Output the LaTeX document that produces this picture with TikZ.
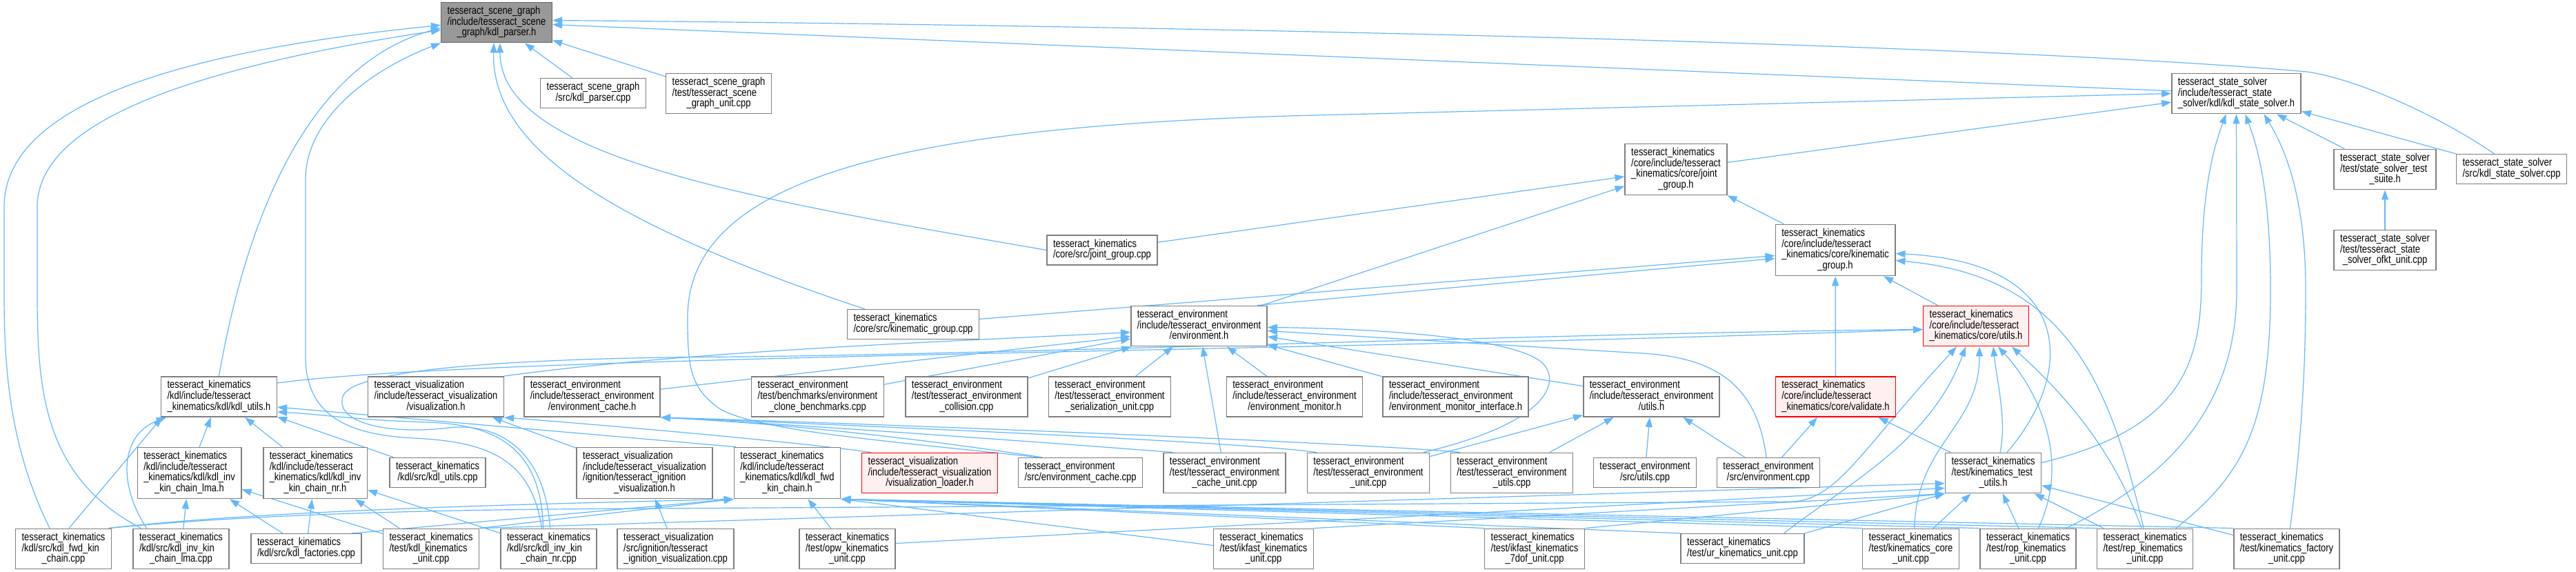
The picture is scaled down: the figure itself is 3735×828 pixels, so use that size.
\documentclass[tikz,border=0pt]{standalone}
\usepackage{fontspec}
\setmainfont{Liberation Sans}[FakeStretch=0.82]
\usetikzlibrary{arrows.meta,backgrounds}
\definecolor{edgeblue}{HTML}{63B8FF}
\definecolor{boxgray}{HTML}{7F7F7F}
\definecolor{hdrgray}{HTML}{999999}
\definecolor{trunc}{HTML}{FFF0F0}
\newcommand{\doxlbl}[2]{\begin{tabular}{@{}l@{}}#1\\\multicolumn{1}{@{}c@{}}{#2}\end{tabular}}
\tikzset{
  file/.style={draw=boxgray, line width=1.5pt, fill=white, inner xsep=9pt, inner ysep=5.5pt,
    font=\fontsize{15.8pt}{14.5pt}\selectfont},
  mainfile/.style={file, fill=hdrgray, draw=black!60},
  truncfile/.style={file, draw=red, fill=trunc},
  dep/.style={draw=edgeblue, line width=1.2pt, -{Triangle[length=14pt,width=10pt]}},
}
\begin{document}
\begin{tikzpicture}[x=1pt,y=-1pt]
\useasboundingbox (0,0) rectangle (3735,828);
% top rows
\node[mainfile] (parser) at (720,32.5) {\doxlbl{tesseract\_scene\_graph\\/include/tesseract\_scene}{\_graph/kdl\_parser.h}};
\node[file] (parsercpp) at (860,135) {\doxlbl{tesseract\_scene\_graph}{/src/kdl\_parser.cpp}};
\node[file] (sgunit) at (1042,135.5) {\doxlbl{tesseract\_scene\_graph\\/test/tesseract\_scene}{\_graph\_unit.cpp}};
\node[file] (kss) at (3242.5,135.5) {\doxlbl{tesseract\_state\_solver\\/include/tesseract\_state}{\_solver/kdl/kdl\_state\_solver.h}};
\node[file] (jg) at (2430,245.5) {\doxlbl{tesseract\_kinematics\\/core/include/tesseract\\\_kinematics/core/joint}{\_group.h}};
\node[file] (jgcpp) at (1598,362.5) {\doxlbl{tesseract\_kinematics}{/core/src/joint\_group.cpp}};
\node[file] (sstsuite) at (3458,245.5) {\doxlbl{tesseract\_state\_solver\\/test/state\_solver\_test}{\_suite.h}};
\node[file] (ksscpp) at (3641.5,245) {\doxlbl{tesseract\_state\_solver}{/src/kdl\_state\_solver.cpp}};
\node[file] (ofkt) at (3458,362.5) {\doxlbl{tesseract\_state\_solver\\/test/tesseract\_state}{\_solver\_ofkt\_unit.cpp}};
\node[file] (kg) at (2661,362.5) {\doxlbl{tesseract\_kinematics\\/core/include/tesseract\\\_kinematics/core/kinematic}{\_group.h}};
\node[file] (kgcpp) at (1324,470) {\doxlbl{tesseract\_kinematics}{/core/src/kinematic\_group.cpp}};
\node[file] (env) at (1738.5,472.5) {\doxlbl{tesseract\_environment\\/include/tesseract\_environment}{/environment.h}};
\node[truncfile] (cutils) at (2865,472.5) {\doxlbl{tesseract\_kinematics\\/core/include/tesseract}{\_kinematics/core/utils.h}};
% middle row
\node[file] (kdlutils) at (317.5,575) {\doxlbl{tesseract\_kinematics\\/kdl/include/tesseract}{\_kinematics/kdl/kdl\_utils.h}};
\node[file] (vis) at (632,575) {\doxlbl{tesseract\_visualization\\/include/tesseract\_visualization}{/visualization.h}};
\node[file] (envcache) at (858.5,575) {\doxlbl{tesseract\_environment\\/include/tesseract\_environment}{/environment\_cache.h}};
\node[file] (bench) at (1185.5,575) {\doxlbl{tesseract\_environment\\/test/benchmarks/environment}{\_clone\_benchmarks.cpp}};
\node[file] (coll) at (1401.5,575) {\doxlbl{tesseract\_environment\\/test/tesseract\_environment}{\_collision.cpp}};
\node[file] (ser) at (1609,575) {\doxlbl{tesseract\_environment\\/test/tesseract\_environment}{\_serialization\_unit.cpp}};
\node[file] (mon) at (1877,575) {\doxlbl{tesseract\_environment\\/include/tesseract\_environment}{/environment\_monitor.h}};
\node[file] (monif) at (2110.5,575) {\doxlbl{tesseract\_environment\\/include/tesseract\_environment}{/environment\_monitor\_interface.h}};
\node[file] (eutils) at (2394.5,575) {\doxlbl{tesseract\_environment\\/include/tesseract\_environment}{/utils.h}};
\node[truncfile] (valid) at (2661.5,575) {\doxlbl{tesseract\_kinematics\\/core/include/tesseract}{\_kinematics/core/validate.h}};
% lower row
\node[file] (lmah) at (274.5,685.5) {\doxlbl{tesseract\_kinematics\\/kdl/include/tesseract\\\_kinematics/kdl/kdl\_inv}{\_kin\_chain\_lma.h}};
\node[file] (nrh) at (457,685.5) {\doxlbl{tesseract\_kinematics\\/kdl/include/tesseract\\\_kinematics/kdl/kdl\_inv}{\_kin\_chain\_nr.h}};
\node[file] (kdlutilscpp) at (634.5,685) {\doxlbl{tesseract\_kinematics}{/kdl/src/kdl\_utils.cpp}};
\node[file] (ignh) at (934.5,685.5) {\doxlbl{tesseract\_visualization\\/include/tesseract\_visualization\\/ignition/tesseract\_ignition}{\_visualization.h}};
\node[file] (fwdh) at (1141.5,685.5) {\doxlbl{tesseract\_kinematics\\/kdl/include/tesseract\\\_kinematics/kdl/kdl\_fwd}{\_kin\_chain.h}};
\node[truncfile] (loader) at (1348,685.5) {\doxlbl{tesseract\_visualization\\/include/tesseract\_visualization}{/visualization\_loader.h}};
\node[file] (cachecpp) at (1566.5,685) {\doxlbl{tesseract\_environment}{/src/environment\_cache.cpp}};
\node[file] (cacheunit) at (1775.5,685.5) {\doxlbl{tesseract\_environment\\/test/tesseract\_environment}{\_cache\_unit.cpp}};
\node[file] (envunit) at (1984,685.5) {\doxlbl{tesseract\_environment\\/test/tesseract\_environment}{\_unit.cpp}};
\node[file] (eutilscpp) at (2192,685.5) {\doxlbl{tesseract\_environment\\/test/tesseract\_environment}{\_utils.cpp}};
\node[file] (srcutils) at (2385,685) {\doxlbl{tesseract\_environment}{/src/utils.cpp}};
\node[file] (envcpp) at (2564,685) {\doxlbl{tesseract\_environment}{/src/environment.cpp}};
\node[file] (ktu) at (2890,685.5) {\doxlbl{tesseract\_kinematics\\/test/kinematics\_test}{\_utils.h}};
% bottom row
\node[file] (fwdcpp) at (92,795.5) {\doxlbl{tesseract\_kinematics\\/kdl/src/kdl\_fwd\_kin}{\_chain.cpp}};
\node[file] (lmacpp) at (262.5,795.5) {\doxlbl{tesseract\_kinematics\\/kdl/src/kdl\_inv\_kin}{\_chain\_lma.cpp}};
\node[file] (factcpp) at (444,795) {\doxlbl{tesseract\_kinematics}{/kdl/src/kdl\_factories.cpp}};
\node[file] (kdlunit) at (625,795.5) {\doxlbl{tesseract\_kinematics\\/test/kdl\_kinematics}{\_unit.cpp}};
\node[file] (nrcpp) at (795.5,795.5) {\doxlbl{tesseract\_kinematics\\/kdl/src/kdl\_inv\_kin}{\_chain\_nr.cpp}};
\node[file] (igncpp) at (979.5,795.5) {\doxlbl{tesseract\_visualization\\/src/ignition/tesseract}{\_ignition\_visualization.cpp}};
\node[file] (opw) at (1228.5,795.5) {\doxlbl{tesseract\_kinematics\\/test/opw\_kinematics}{\_unit.cpp}};
\node[file] (ikfast) at (1832,795.5) {\doxlbl{tesseract\_kinematics\\/test/ikfast\_kinematics}{\_unit.cpp}};
\node[file] (ik7) at (2225,795.5) {\doxlbl{tesseract\_kinematics\\/test/ikfast\_kinematics}{\_7dof\_unit.cpp}};
\node[file] (ur) at (2526.5,795) {\doxlbl{tesseract\_kinematics}{/test/ur\_kinematics\_unit.cpp}};
\node[file] (kcore) at (2770.5,795.5) {\doxlbl{tesseract\_kinematics\\/test/kinematics\_core}{\_unit.cpp}};
\node[file] (rop) at (2940.5,795.5) {\doxlbl{tesseract\_kinematics\\/test/rop\_kinematics}{\_unit.cpp}};
\node[file] (rep) at (3110,795.5) {\doxlbl{tesseract\_kinematics\\/test/rep\_kinematics}{\_unit.cpp}};
\node[file] (kfact) at (3315.5,795.5) {\doxlbl{tesseract\_kinematics\\/test/kinematics\_factory}{\_unit.cpp}};

\begin{scope}[on background layer]
\fill[white] (0,0) rectangle (3735,828);
% straight includes
\foreach \src/\dst in {parsercpp/parser, sgunit/parser, kss/parser, jg/kss, sstsuite/kss, ksscpp/kss,
    ofkt/sstsuite, jgcpp/jg, env/jg, kg/jg, cutils/kg, valid/kg,
    bench/env, coll/env, ser/env, cacheunit/env, mon/env, monif/env, eutils/env,
    envunit/eutils, eutilscpp/eutils, srcutils/eutils, envcpp/eutils, envcpp/valid, ktu/valid,
    ignh/vis, igncpp/ignh, lmah/kdlutils, nrh/kdlutils, kdlutilscpp/kdlutils,
    lmacpp/lmah, factcpp/lmah, kdlunit/lmah, factcpp/nrh, kdlunit/nrh, nrcpp/nrh,
    opw/fwdh, kcore/ktu, rop/ktu, rep/ktu, kfact/ktu}
  \draw[dep] (\src) -- (\dst);
\foreach \src in {ik7,ur,kcore,rop,rep,kfact}
  \draw[dep] (\src.north west) -- (fwdh.south east);
\foreach \src in {ikfast,ik7,ur}
  \draw[dep] (\src.north east) -- (ktu.south west);
\draw[dep] ([yshift=5pt]ikfast.west) -- (fwdh.south east);
\draw[dep] (kdlunit.north east) -- ([yshift=-15pt]ktu.west);
\draw[dep] ([yshift=8pt]opw.east) -- ([yshift=-22pt]ktu.west);
\draw[dep] ([xshift=-15pt]factcpp.north east) -- (fwdh.south west);
\draw[dep] (kdlunit.north east) -- (fwdh.south west);
\draw[dep] ([xshift=-5pt]fwdcpp.north east) .. controls (400,738) and (800,730) .. (fwdh.south west);
\draw[dep] (kgcpp) -- ([yshift=-8pt]kg.west);
\draw[dep] ([xshift=-15pt]env.north east) -- ([yshift=-12pt]kg.west);
\draw[dep] (envcache) -- ([yshift=-15pt]env.west);
\draw[dep] (vis.north east) .. controls (1000,508) and (1400,494) .. ([yshift=-9pt]env.west);
\draw[dep] ([xshift=3pt]fwdh.north west) -- ([yshift=-15pt]kdlutils.east);
\draw[dep] ([xshift=8pt]fwdcpp.north) -- ([xshift=2pt]kdlutils.south west);
\draw[dep] ([xshift=-50pt]lmacpp.north) .. controls (170,700) and (175,630) .. ([xshift=8pt]kdlutils.south west);
% long includes of kdl_parser.h
\draw[dep] (kdlutils.north) .. controls (355,330) and (440,95) .. ([yshift=-8pt]parser.west);
\draw[dep] ([xshift=-20pt]fwdcpp.north) .. controls (10,640) and (6,520) .. (6,420) -- (6,300) .. controls (6,170) and (200,80) .. ([yshift=-4pt]parser.west);
\draw[dep] ([xshift=-58pt]lmacpp.north) .. controls (60,690) and (54,560) .. (54,420) -- (54,300) .. controls (54,170) and (300,95) .. ([yshift=-11pt]parser.west);
\draw[dep] ([xshift=-10pt]nrcpp.north) .. controls (770,660) and (700,640) .. (600,635) .. controls (500,630) and (445,600) .. (443,520) -- (443,260) .. controls (443,170) and (540,100) .. (parser.south west);
\draw[dep] (jgcpp.west) .. controls (1100,290) and (725,230) .. ([xshift=5pt]parser.south);
\draw[dep] ([xshift=-70pt]kgcpp.north) .. controls (900,330) and (712,220) .. ([xshift=-4pt]parser.south);
\draw[dep] ([xshift=-25pt]ksscpp.north) .. controls (3540,170) and (3420,115) .. (3345,104) .. controls (2900,65) and (1800,38) .. ([yshift=3pt]parser.east);
% kdl_state_solver.h
\draw[dep] ([xshift=-60pt]cachecpp.north) .. controls (1300,640) and (1090,625) .. (1040,590) .. controls (1000,560) and (997,530) .. (997,460) .. controls (997,260) and (1300,185) .. (1870,168) -- (kss.west);
\draw[dep] ([yshift=15pt]ktu.east) .. controls (3170,620) and (3192,520) .. (3192,400) .. controls (3192,260) and (3215,200) .. ([xshift=-15pt]kss.south);
\draw[dep] ([xshift=55pt]rop.north) .. controls (3130,700) and (3243,600) .. (3243,420) -- (kss.south);
\draw[dep] ([xshift=45pt]rep.north) .. controls (3250,690) and (3292,620) .. (3292,420) .. controls (3292,260) and (3268,200) .. ([xshift=13pt]kss.south);
\draw[dep] ([xshift=5pt]kfact.north) .. controls (3335,650) and (3343,550) .. (3343,420) .. controls (3343,280) and (3310,210) .. ([xshift=40pt]kss.south);
% kinematic_group.h
\draw[dep] ([xshift=20pt]ktu.north) .. controls (3010,540) and (3010,380) .. ([yshift=-5pt]kg.east);
\draw[dep] ([xshift=-2pt]rep.north) .. controls (3060,560) and (3000,400) .. ([yshift=-15pt]kg.east);
% core/utils.h
\draw[dep] ([yshift=-10pt]kdlutils.north east) .. controls (700,515) and (1900,510) .. ([yshift=-5pt]cutils.west);
\draw[dep] ([xshift=2pt]nrcpp.north) .. controls (790,650) and (720,612) .. (650,620) .. controls (570,630) and (485,615) .. (497,575) .. controls (510,530) and (800,518) .. (1080,517) .. controls (1500,512) and (2300,482) .. ([yshift=-5pt]cutils.west);
\draw[dep] ([xshift=-5pt]fwdcpp.north east) .. controls (400,742) and (700,738) .. (940,737) -- (2600,727) .. controls (2665,723) and (2700,650) .. ([xshift=-28pt]cutils.south);
\draw[dep] ([xshift=60pt]ur.north) .. controls (2680,700) and (2800,640) .. ([xshift=-15pt]cutils.south);
\draw[dep] ([xshift=5pt]kcore.north) .. controls (2780,640) and (2870,620) .. ([xshift=5pt]cutils.south);
\draw[dep] ([xshift=10pt]ktu.north) .. controls (2910,610) and (2895,550) .. ([xshift=25pt]cutils.south);
\draw[dep] ([xshift=15pt]rop.north) .. controls (3005,660) and (2950,560) .. ([xshift=32pt]cutils.south);
\draw[dep] ([xshift=-5pt]rep.north) .. controls (3060,640) and (2980,560) .. ([xshift=52pt]cutils.south);
% environment.h
\draw[dep] ([xshift=80pt]envunit.north) .. controls (2235,615) and (2262,560) .. (2240,530) .. controls (2210,490) and (2000,476) .. ([yshift=-2pt]env.east);
\draw[dep] ([xshift=-3pt]envcpp.north) .. controls (2548,560) and (2490,518) .. (2380,512) -- ([yshift=-7pt]env.east);
% environment_cache.h and visualization.h
\draw[dep] ([xshift=-55pt]cachecpp.north) .. controls (1300,630) and (1100,612) .. (envcache.south east);
\draw[dep] ([xshift=-75pt]cacheunit.north) .. controls (1500,640) and (1150,615) .. (envcache.south east);
\draw[dep] ([xshift=-75pt]envunit.north) .. controls (1800,640) and (1200,615) .. (envcache.south east);
\draw[dep] ([xshift=-75pt]eutilscpp.north) .. controls (1950,640) and (1200,612) .. (envcache.south east);
\draw[dep] ([xshift=-85pt]loader.north) .. controls (1150,640) and (900,618) .. (vis.south east);
\draw[dep] ([xshift=-8pt]nrcpp.north) .. controls (785,650) and (720,615) .. (620,612) .. controls (520,609) and (460,600) .. ([yshift=-22pt]kdlutils.east);
\end{scope}
\end{tikzpicture}
\end{document}
